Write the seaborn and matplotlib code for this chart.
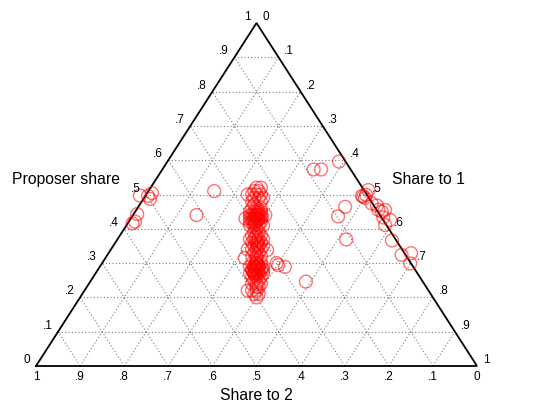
import numpy as np
import pandas as pd
import matplotlib
matplotlib.use('Agg')
import matplotlib.pyplot as plt
import seaborn as sns

# Ternary data: proposer share, share to player 1, share to player 2
proposer = [0.52, 0.51, 0.50, 0.50, 0.49, 0.48, 0.50, 0.49, 0.51, 0.48, 0.47,
            0.52, 0.50, 0.49,
            0.46, 0.45, 0.45, 0.44, 0.44, 0.43, 0.43, 0.42, 0.42, 0.41, 0.44, 0.45,
            0.43, 0.42, 0.41, 0.40, 0.44, 0.43,
            0.45, 0.44, 0.43, 0.42, 0.46, 0.46, 0.41, 0.41, 0.44, 0.43,
            0.435, 0.425, 0.430, 0.440, 0.420, 0.435, 0.425, 0.445, 0.415, 0.430,
            0.450, 0.440,
            0.39, 0.38, 0.37, 0.36, 0.35, 0.34, 0.33, 0.32, 0.38, 0.37, 0.36, 0.35,
            0.34, 0.33, 0.39, 0.36, 0.35,
            0.37, 0.37, 0.34, 0.34, 0.38, 0.32, 0.32,
            0.365, 0.355, 0.345, 0.375,
            0.30, 0.29, 0.28, 0.27, 0.30, 0.29, 0.28, 0.27, 0.26, 0.29, 0.28, 0.30,
            0.27, 0.31,
            0.29, 0.29, 0.28, 0.28, 0.27, 0.27, 0.30, 0.26, 0.26,
            0.285, 0.275, 0.280, 0.290, 0.270, 0.285, 0.275, 0.295, 0.265, 0.280,
            0.300, 0.290,
            0.25, 0.24, 0.23, 0.22, 0.21, 0.20, 0.24, 0.22, 0.23, 0.25,
            0.22, 0.21, 0.24,
            0.315, 0.338,
            0.294, 0.289, 0.300, 0.246, 0.573, 0.573, 0.596, 0.464, 0.436, 0.369,
            0.513, 0.494, 0.496, 0.490, 0.499, 0.474, 0.468, 0.450, 0.455, 0.455,
            0.433, 0.426, 0.411, 0.366, 0.324, 0.329, 0.299,
            0.497, 0.496, 0.504, 0.487, 0.510, 0.443, 0.421, 0.416, 0.440]
share_1 = [0.24, 0.25, 0.25, 0.24, 0.26, 0.25, 0.26, 0.25, 0.24, 0.27, 0.26,
           0.25, 0.23, 0.27,
           0.27, 0.27, 0.28, 0.28, 0.27, 0.29, 0.28, 0.29, 0.28, 0.30, 0.29, 0.26,
           0.27, 0.30, 0.29, 0.30, 0.28, 0.285,
           0.285, 0.265, 0.295, 0.275, 0.26, 0.28, 0.28, 0.31, 0.30, 0.26,
           0.280, 0.290, 0.275, 0.285, 0.285, 0.295, 0.280, 0.280, 0.290, 0.290,
           0.275, 0.275,
           0.30, 0.31, 0.32, 0.32, 0.33, 0.33, 0.34, 0.34, 0.30, 0.31, 0.31, 0.32,
           0.32, 0.33, 0.31, 0.33, 0.34,
           0.30, 0.33, 0.31, 0.34, 0.32, 0.33, 0.35,
           0.320, 0.325, 0.330, 0.310,
           0.35, 0.36, 0.36, 0.37, 0.34, 0.35, 0.37, 0.36, 0.37, 0.355, 0.355, 0.36,
           0.365, 0.345,
           0.34, 0.37, 0.35, 0.375, 0.35, 0.38, 0.35, 0.36, 0.38,
           0.355, 0.365, 0.350, 0.360, 0.360, 0.370, 0.355, 0.355, 0.365, 0.365,
           0.350, 0.350,
           0.37, 0.38, 0.39, 0.39, 0.39, 0.40, 0.37, 0.38, 0.385, 0.38,
           0.37, 0.40, 0.39,
           0.316, 0.355,
           0.402, 0.420, 0.396, 0.489, 0.343, 0.360, 0.389, 0.469, 0.467, 0.519,
           0.497, 0.495, 0.491, 0.501, 0.499, 0.524, 0.539, 0.559, 0.564, 0.549,
           0.571, 0.590, 0.586, 0.624, 0.667, 0.686, 0.699,
           -0.013, 0.006, 0.011, 0.015, 0.149, 0.008, 0.014, 0.011, 0.144]
share_2 = [0.24, 0.24, 0.25, 0.26, 0.25, 0.27, 0.24, 0.26, 0.25, 0.25, 0.27,
           0.23, 0.27, 0.24,
           0.27, 0.28, 0.27, 0.28, 0.29, 0.28, 0.29, 0.29, 0.30, 0.29, 0.27, 0.29,
           0.30, 0.28, 0.30, 0.30, 0.28, 0.285,
           0.265, 0.295, 0.275, 0.305, 0.28, 0.26, 0.31, 0.28, 0.26, 0.31,
           0.285, 0.285, 0.295, 0.275, 0.295, 0.270, 0.295, 0.275, 0.295, 0.280,
           0.275, 0.285,
           0.31, 0.31, 0.31, 0.32, 0.32, 0.33, 0.33, 0.34, 0.32, 0.32, 0.33, 0.33,
           0.34, 0.34, 0.30, 0.31, 0.31,
           0.33, 0.30, 0.35, 0.32, 0.30, 0.35, 0.33,
           0.315, 0.320, 0.325, 0.315,
           0.35, 0.35, 0.36, 0.36, 0.36, 0.36, 0.35, 0.37, 0.37, 0.355, 0.365, 0.34,
           0.365, 0.345,
           0.37, 0.34, 0.37, 0.345, 0.38, 0.35, 0.35, 0.38, 0.36,
           0.360, 0.360, 0.370, 0.350, 0.370, 0.345, 0.370, 0.350, 0.370, 0.355,
           0.350, 0.360,
           0.38, 0.38, 0.38, 0.39, 0.40, 0.40, 0.39, 0.40, 0.385, 0.37,
           0.41, 0.39, 0.37,
           0.369, 0.307,
           0.304, 0.291, 0.304, 0.265, 0.084, 0.067, 0.015, 0.067, 0.097, 0.112,
           -0.010, 0.011, 0.013, 0.009, 0.002, 0.002, -0.007, -0.009, -0.019, -0.004,
           -0.004, -0.016, 0.003, 0.010, 0.009, -0.015, 0.002,
           0.516, 0.498, 0.485, 0.498, 0.341, 0.549, 0.565, 0.573, 0.416]

ticks = np.arange(0, 11) / 10
tick_labels = ['0', '.1', '.2', '.3', '.4', '.5', '.6', '.7', '.8', '.9', '1']

df = pd.DataFrame({'proposer': proposer, 'share_1': share_1, 'share_2': share_2})
# project onto the triangle: bottom-left = share to 2, bottom-right = share to 1, top = proposer
df['x'] = df['share_1'] + df['proposer'] / 2
df['y'] = df['proposer']

plt.rcParams['font.family'] = ['Liberation Sans', 'DejaVu Sans']
fig = plt.figure(figsize=(5.38, 4.03), dpi=100)
ax = fig.add_axes([0, 0, 1, 1])
ax.set_xlim(-36 / 441, 1 + 61 / 441)
ax.set_ylim(-37 / 343, 1 + 23 / 343)
ax.set_axis_off()

# dotted grid
grid_kw = dict(color='#7a7a7a', lw=0.8, ls=(0, (1, 2)), zorder=1)
for t in ticks[1:-1]:
    ax.plot([t / 2, 1 - t / 2], [t, t], **grid_kw)            # proposer
    ax.plot([t, t + (1 - t) / 2], [0, 1 - t], **grid_kw)      # share to 1
    ax.plot([1 - t, (1 - t) / 2], [0, 1 - t], **grid_kw)      # share to 2

# triangle frame
ax.plot([0, 1, 0.5, 0], [0, 0, 1, 0], color='black', lw=1.3, zorder=2,
        solid_joinstyle='miter')

sns.scatterplot(data=df, x='x', y='y', ax=ax, marker='o', s=85,
                facecolor='none', edgecolor='red', linewidth=1.0, alpha=0.55,
                zorder=3, legend=False)

# tick labels
fs = 8.5
for t, lab in zip(ticks, tick_labels):
    # proposer share along the left edge
    ax.annotate(lab, xy=(t / 2, t), xytext=(-4, 4.3), textcoords='offset points',
                ha='right', va='center', fontsize=fs)
    # share to 1 along the right edge
    ax.annotate(lab, xy=(t + (1 - t) / 2, 1 - t), xytext=(4, 4.3),
                textcoords='offset points', ha='left', va='center', fontsize=fs)
    # share to 2 along the bottom
    ax.annotate(lab, xy=(1 - t, 0), xytext=(0, -8), textcoords='offset points',
                ha='center', va='center', fontsize=fs)

ax.text((66.5 - 36) / 441, (366 - 179) / 343, 'Proposer share', ha='center',
        va='center', fontsize=11.3)
ax.text((428 - 36) / 441, (366 - 179) / 343, 'Share to 1', ha='center',
        va='center', fontsize=11.3)
ax.text(0.5, (366 - 395) / 343, 'Share to 2', ha='center', va='center',
        fontsize=11.3)

fig.savefig('out.png', dpi=100)
